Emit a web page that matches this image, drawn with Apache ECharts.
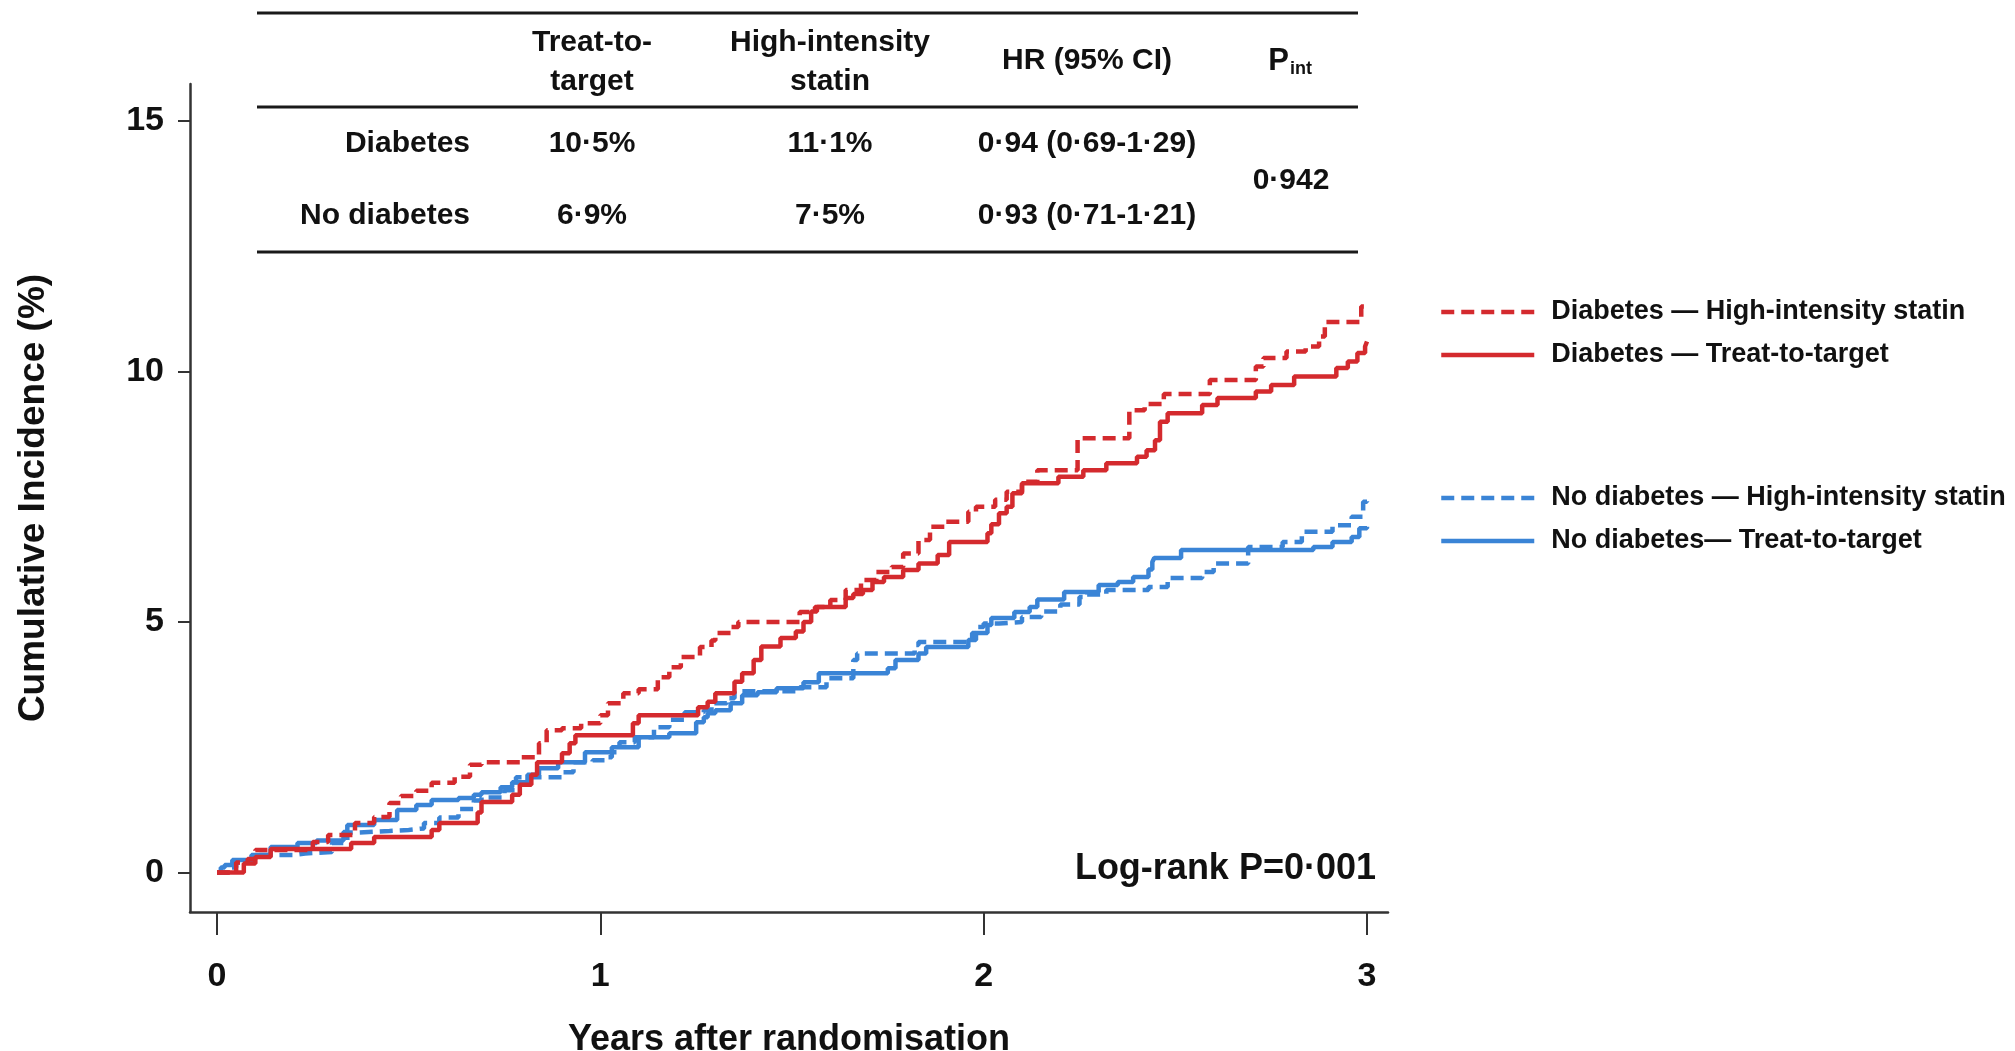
<!DOCTYPE html>
<html>
<head>
<meta charset="utf-8">
<script src="https://cdn.jsdelivr.net/npm/echarts@6/dist/echarts.min.js"></script>
<style>
  html, body { margin: 0; padding: 0; background: #ffffff; }
  #chart { width: 2015px; height: 1051px; }
</style>
</head>
<body>
<div id="chart"></div>
<script>
// ---- data ---------------------------------------------------------------
const xTicks = [0, 1, 2, 3];
const yTicks = [0, 5, 10, 15];

const seriesNames = [
  'Diabetes — High-intensity statin',
  'Diabetes — Treat-to-target',
  'No diabetes — High-intensity statin',
  'No diabetes— Treat-to-target'
];

// cumulative incidence (%) step points: [years, value from that time on]
const diabetesHighIntensity = [
  [0, 0], [0.05, 0.2], [0.08, 0.27], [0.10, 0.45], [0.25, 0.61], [0.29, 0.75], [0.36, 0.99],
  [0.41, 1.11], [0.45, 1.39], [0.48, 1.53], [0.52, 1.63], [0.56, 1.79], [0.62, 1.91],
  [0.66, 2.15], [0.69, 2.2], [0.79, 2.3], [0.84, 2.58], [0.86, 2.84], [0.90, 2.88],
  [0.95, 2.98], [1.0, 3.14], [1.02, 3.38], [1.06, 3.58], [1.10, 3.66], [1.15, 3.9],
  [1.18, 4.1], [1.21, 4.3], [1.26, 4.5], [1.29, 4.63], [1.30, 4.78], [1.34, 4.9],
  [1.36, 5.0], [1.52, 5.2], [1.56, 5.3], [1.60, 5.44], [1.64, 5.64], [1.68, 5.84],
  [1.72, 6.0], [1.76, 6.1], [1.79, 6.37], [1.83, 6.64], [1.86, 6.9], [1.90, 7.0],
  [1.96, 7.2], [1.98, 7.3], [2.03, 7.44], [2.06, 7.6], [2.10, 7.8], [2.14, 8.03],
  [2.245, 8.67], [2.38, 9.23], [2.42, 9.35], [2.47, 9.55], [2.59, 9.83], [2.71, 10.1],
  [2.73, 10.27], [2.79, 10.4], [2.84, 10.5], [2.875, 10.7], [2.89, 10.99], [2.985, 11.3],
  [3.0, 11.3]
];
const diabetesTreatToTarget = [
  [0, 0], [0.07, 0.18], [0.10, 0.31], [0.14, 0.47], [0.35, 0.59], [0.41, 0.71], [0.56, 0.85],
  [0.58, 0.99], [0.68, 1.2], [0.69, 1.41], [0.77, 1.55], [0.79, 1.75], [0.82, 1.95],
  [0.835, 2.2], [0.90, 2.38], [0.92, 2.58], [0.935, 2.74], [1.085, 2.98], [1.10, 3.14],
  [1.255, 3.3], [1.28, 3.41], [1.30, 3.58], [1.35, 3.81], [1.37, 3.98], [1.40, 4.24],
  [1.42, 4.51], [1.47, 4.68], [1.51, 4.81], [1.53, 5.0], [1.55, 5.21], [1.565, 5.3],
  [1.64, 5.48], [1.66, 5.56], [1.685, 5.64], [1.71, 5.8], [1.74, 5.9], [1.79, 6.04],
  [1.83, 6.17], [1.88, 6.34], [1.91, 6.6], [2.01, 6.77], [2.02, 6.95], [2.04, 7.17],
  [2.06, 7.3], [2.075, 7.57], [2.10, 7.77], [2.195, 7.9], [2.26, 8.03], [2.32, 8.17],
  [2.40, 8.3], [2.425, 8.43], [2.447, 8.63], [2.46, 9.0], [2.48, 9.17], [2.57, 9.33],
  [2.61, 9.47], [2.71, 9.6], [2.75, 9.73], [2.81, 9.9], [2.92, 10.07], [2.95, 10.2],
  [2.975, 10.37], [2.995, 10.5], [3.0, 10.6]
];
const noDiabetesHighIntensity = [
  [0, 0], [0.03, 0.1], [0.05, 0.2], [0.09, 0.27], [0.10, 0.35], [0.20, 0.38], [0.23, 0.41],
  [0.30, 0.59], [0.34, 0.8], [0.37, 0.83], [0.45, 0.85], [0.50, 0.88], [0.54, 0.99],
  [0.58, 1.1], [0.63, 1.27], [0.67, 1.44], [0.69, 1.5], [0.75, 1.64], [0.78, 1.9],
  [0.90, 2.0], [0.93, 2.2], [0.98, 2.24], [1.02, 2.3], [1.03, 2.4], [1.05, 2.6],
  [1.09, 2.7], [1.14, 2.9], [1.18, 3.05], [1.22, 3.2], [1.27, 3.24], [1.29, 3.38],
  [1.33, 3.48], [1.35, 3.62], [1.52, 3.7], [1.59, 3.88], [1.66, 4.24], [1.67, 4.37],
  [1.82, 4.54], [1.83, 4.6], [1.97, 4.78], [1.98, 4.9], [2.0, 4.97], [2.04, 5.0],
  [2.10, 5.1], [2.15, 5.21], [2.20, 5.35], [2.25, 5.5], [2.27, 5.55], [2.32, 5.64],
  [2.43, 5.7], [2.48, 5.88], [2.57, 6.0], [2.60, 6.17], [2.69, 6.5], [2.78, 6.6],
  [2.83, 6.8], [2.91, 6.93], [2.96, 7.1], [2.99, 7.4], [3.0, 7.45]
];
const noDiabetesTreatToTarget = [
  [0, 0], [0.01, 0.1], [0.02, 0.15], [0.04, 0.25], [0.09, 0.35], [0.14, 0.51], [0.21, 0.59],
  [0.26, 0.64], [0.33, 0.81], [0.34, 0.95], [0.41, 1.05], [0.47, 1.25], [0.52, 1.35],
  [0.56, 1.45], [0.63, 1.49], [0.67, 1.55], [0.69, 1.6], [0.74, 1.7], [0.77, 1.8],
  [0.81, 1.95], [0.84, 2.08], [0.89, 2.2], [0.96, 2.4], [1.03, 2.5], [1.10, 2.7],
  [1.18, 2.78], [1.25, 3.0], [1.27, 3.1], [1.28, 3.18], [1.30, 3.24], [1.34, 3.38],
  [1.37, 3.54], [1.41, 3.6], [1.46, 3.68], [1.53, 3.8], [1.57, 3.98], [1.75, 4.08],
  [1.77, 4.24], [1.83, 4.37], [1.85, 4.5], [1.96, 4.64], [1.98, 4.78], [2.01, 4.94],
  [2.02, 5.08], [2.08, 5.2], [2.12, 5.3], [2.14, 5.45], [2.21, 5.6], [2.30, 5.74],
  [2.35, 5.8], [2.39, 5.9], [2.43, 6.05], [2.44, 6.2], [2.445, 6.28], [2.515, 6.44],
  [2.86, 6.5], [2.91, 6.6], [2.96, 6.7], [2.98, 6.87], [3.0, 6.9]
];

// summary table
const tableHeaders = [['Treat-to-', 'target'], ['High-intensity', 'statin'], ['HR (95% CI)']];
const tableRowLabels = ['Diabetes', 'No diabetes'];
const tableTreatToTarget = ['10·5%', '6·9%'];
const tableHighIntensity = ['11·1%', '7·5%'];
const tableHazardRatio = ['0·94 (0·69-1·29)', '0·93 (0·71-1·21)'];
const pInteraction = '0·942';
const logRankLabel = 'Log-rank P=0·001';

// ---- styling / layout ----------------------------------------------------
const FONT = '"Liberation Sans", Arial, Helvetica, sans-serif';
const INK = '#111111';
const RED = '#d42a2e';
const BLUE = '#3a84d6';
const DASH = [13, 7];
const LINE_W = 4.5;

const chart = echarts.init(document.getElementById('chart'), null, { renderer: 'canvas' });

function txt(x, y, text, size, align, vAlign) {
  return {
    type: 'text', silent: true,
    style: {
      x: x, y: y, text: text,
      font: 'bold ' + size + 'px ' + FONT,
      fill: INK,
      textAlign: align || 'center', textVerticalAlign: vAlign || 'middle',
      align: align || 'center', verticalAlign: vAlign || 'middle'
    }
  };
}
function hline(x1, x2, y) {
  return {
    type: 'line', silent: true,
    shape: { x1: x1, y1: y, x2: x2, y2: y },
    style: { stroke: '#1a1a1a', lineWidth: 3 }
  };
}

// table columns (centres) and rows
const colX = [592, 830, 1087];
const rowY = [144, 216];
const tableGraphics = [
  hline(257, 1358, 13), hline(257, 1358, 107), hline(257, 1358, 252),
  txt(colX[0], 43, tableHeaders[0][0], 30), txt(colX[0], 82, tableHeaders[0][1], 30),
  txt(colX[1], 43, tableHeaders[1][0], 30), txt(colX[1], 82, tableHeaders[1][1], 30),
  txt(colX[2], 61, tableHeaders[2][0], 30),
  txt(1289, 61, 'P', 31, 'right'),
  txt(1290, 69, 'int', 18, 'left'),
  txt(1291, 181, pInteraction, 30)
];
tableRowLabels.forEach(function (label, i) {
  tableGraphics.push(txt(470, rowY[i], label, 30, 'right'));
  tableGraphics.push(txt(colX[0], rowY[i], tableTreatToTarget[i], 30));
  tableGraphics.push(txt(colX[1], rowY[i], tableHighIntensity[i], 30));
  tableGraphics.push(txt(colX[2], rowY[i], tableHazardRatio[i], 30));
});
tableGraphics.push(txt(1376, 869, logRankLabel, 36, 'right'));

function kmSeries(name, data, color, dashed) {
  return {
    name: name, type: 'line', data: data, step: 'end',
    symbol: 'none', showSymbol: false, silent: true, animation: false,
    lineStyle: { color: color, width: LINE_W, type: dashed ? DASH : 'solid', cap: 'butt' },
    itemStyle: { color: color }
  };
}

const legendText = {
  fontFamily: FONT, fontSize: 27, fontWeight: 'bold', color: INK,
  padding: [0, 0, 0, 12], lineHeight: 30
};
const legendBase = {
  orient: 'vertical', left: 1434, itemWidth: 93, itemHeight: 14, itemGap: 13,
  selectedMode: false, textStyle: legendText,
  itemStyle: { opacity: 0, borderWidth: 0 },
  lineStyle: { width: LINE_W }
};

const option = {
  backgroundColor: '#ffffff',
  animation: false,
  textStyle: { fontFamily: FONT },
  grid: {
    left: 190, top: 84, width: 1198, height: 828,
    containLabel: false, outerBoundsMode: 'none'
  },
  legend: [
    Object.assign({ data: [seriesNames[0], seriesNames[1]], top: 292 }, legendBase),
    Object.assign({ data: [seriesNames[2], seriesNames[3]], top: 478 }, legendBase)
  ],
  xAxis: {
    type: 'value', min: -0.0704, max: 3.0548,
    name: 'Years after randomisation', nameLocation: 'middle', nameGap: 110,
    nameTextStyle: { fontFamily: FONT, fontSize: 36, fontWeight: 'bold', color: INK },
    axisLine: { show: true, onZero: false, lineStyle: { color: '#333333', width: 2.5 } },
    axisTick: { show: true, length: 23, lineStyle: { color: '#333333', width: 2 }, customValues: xTicks },
    axisLabel: { customValues: xTicks, fontFamily: FONT, fontSize: 34, fontWeight: 'bold', color: INK, margin: 48 },
    splitLine: { show: false }
  },
  yAxis: {
    type: 'value', min: -0.788, max: 15.74,
    name: 'Cumulative Incidence (%)', nameLocation: 'middle', nameGap: 138,
    nameTextStyle: { fontFamily: FONT, fontSize: 37, fontWeight: 'bold', color: INK },
    axisLine: { show: true, onZero: false, lineStyle: { color: '#333333', width: 2.5 } },
    axisTick: { show: true, length: 12, lineStyle: { color: '#333333', width: 2 }, customValues: yTicks },
    axisLabel: { customValues: yTicks, fontFamily: FONT, fontSize: 34, fontWeight: 'bold', color: INK, margin: 26 },
    splitLine: { show: false }
  },
  graphic: tableGraphics,
  series: [
    kmSeries(seriesNames[2], noDiabetesHighIntensity, BLUE, true),
    kmSeries(seriesNames[3], noDiabetesTreatToTarget, BLUE, false),
    kmSeries(seriesNames[0], diabetesHighIntensity, RED, true),
    kmSeries(seriesNames[1], diabetesTreatToTarget, RED, false)
  ]
};

chart.setOption(option);
</script>
</body>
</html>
